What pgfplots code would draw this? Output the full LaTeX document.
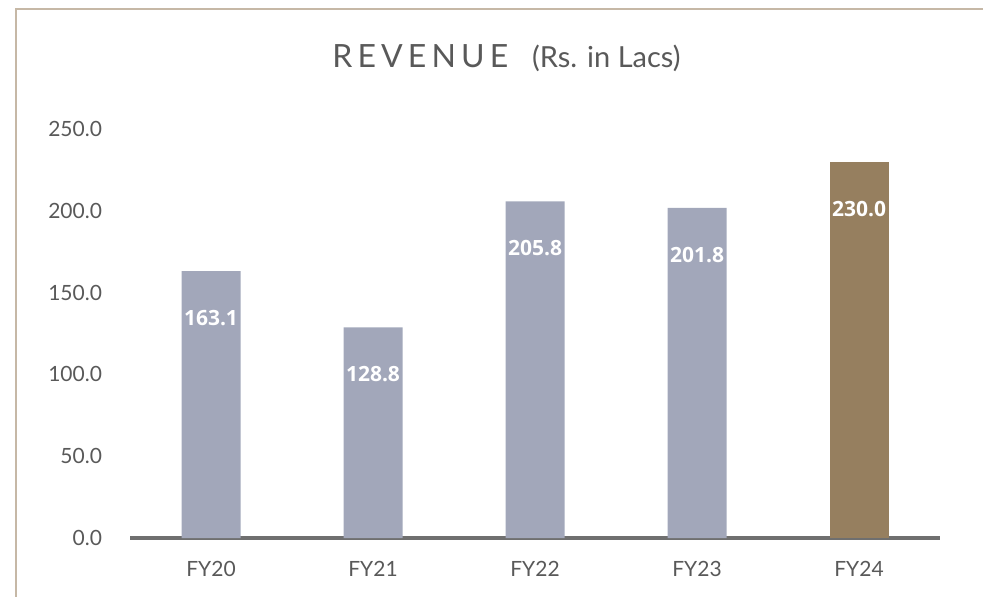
\documentclass[border=0pt]{standalone}
\usepackage{fontspec}
\setmainfont{Lato}
\newfontfamily\labelfont{Open Sans}
\usepackage{pgfplots}
\pgfplotsset{compat=1.18}

\definecolor{bargray}{HTML}{A2A7BA}
\definecolor{barbrown}{HTML}{967F5F}
\definecolor{txtgray}{HTML}{595959}
\definecolor{axisgray}{HTML}{6F6F6F}
\definecolor{frametan}{HTML}{C6B8A6}

\begin{document}
\begin{tikzpicture}[x=0.5pt,y=0.5pt]
  % page = 983 x 596 px, 1 px = 0.5pt
  \useasboundingbox (0,0) rectangle (983,596);
  \draw[frametan, line width=1.2pt] (16,-5) -- (16,587) -- (990,587);
  \node[txtgray, anchor=base west, inner sep=0pt] at (332,529)
    {{\fontsize{16}{18}\selectfont\addfontfeatures{LetterSpace=16}REVENUE}\hspace{12pt}{\fontsize{14.5}{16}\selectfont(Rs. in Lacs)}};

  \begin{axis}[
    at={(65pt,29pt)}, anchor=south west,
    scale only axis, width=405pt, height=204.5pt,
    xmin=-0.5, xmax=4.5, ymin=0, ymax=250,
    enlargelimits=false,
    axis lines*=left,
    x axis line style={draw=axisgray, line width=1.8pt, -},
    y axis line style={draw=none},
    tick style={draw=none},
    xtick={0,1,2,3,4},
    xticklabels={FY20,FY21,FY22,FY23,FY24},
    ytick={0,50,100,150,200,250},
    ticklabel style={font=\fontsize{10.5}{12}\selectfont, text=txtgray},
    xticklabel style={yshift=-4pt},
    yticklabel style={xshift=-10.5pt, /pgf/number format/.cd, fixed, fixed zerofill, precision=1},
    /pgf/number format/assume math mode=true,
    clip=false,
    ybar, bar width=29.5pt, bar shift=0pt,
    nodes near coords,
    nodes near coords style={anchor=north, yshift=-19.5pt, text=white, inner sep=0pt,
      font=\labelfont\bfseries\fontsize{10.5}{12}\selectfont,
      /pgf/number format/.cd, fixed, fixed zerofill, precision=1},
  ]
    \addplot[draw=none, fill=bargray] coordinates {(0,163.1) (1,128.8) (2,205.8) (3,201.8)};
    \addplot[draw=none, fill=barbrown] coordinates {(4,230.0)};
  \end{axis}
\end{tikzpicture}
\end{document}
